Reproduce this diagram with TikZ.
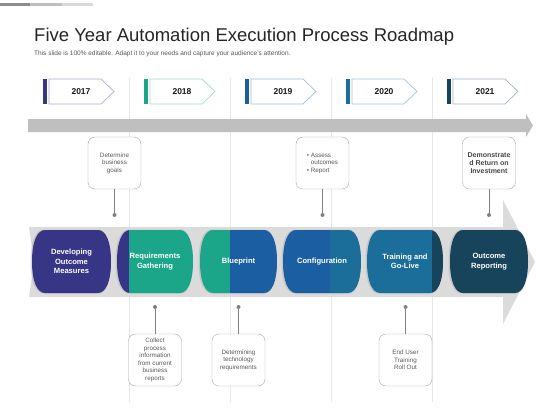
\documentclass[tikz,border=0pt]{standalone}
\usepackage{fontspec}
\setmainfont{Liberation Sans}
\definecolor{cA}{HTML}{373586}
\definecolor{cB}{HTML}{1BA68A}
\definecolor{cC}{HTML}{1C5EA2}
\definecolor{cD}{HTML}{1B6E9A}
\definecolor{cE}{HTML}{17435B}
\definecolor{titlegray}{HTML}{262626}
\definecolor{subgray}{HTML}{595959}
\begin{document}
\begin{tikzpicture}[x=1pt,y=-1pt,
  callout/.style={draw=black!35, rounded corners=7pt, fill=white, minimum width=53pt,
    minimum height=52pt, align=center, text=black!65, inner sep=1pt,
    font=\fontsize{6.3}{7.5}\selectfont},
  boldcallout/.style={callout, text=black!72, font=\bfseries\fontsize{7}{8}\selectfont},
  dotnode/.style={circle, fill=black!50, inner sep=0pt, minimum size=4pt},
  conn/.style={draw=black!50, line width=0.8pt},
  pilltext/.style={text=white, align=center, font=\bfseries\fontsize{7.6}{9.5}\selectfont},
  yeartext/.style={font=\bfseries\fontsize{8.5}{10}\selectfont, text=black!90},
  divider/.style={draw=black!9, line width=0.5pt}]
\useasboundingbox[fill=white] (0,0) rectangle (560,420);
% top-left decorative bars
\fill[black!45] (0,3.5) rectangle (30,6.5);
\fill[black!25] (30,3.5) rectangle (62,6.5);
\fill[black!15] (62,3.5) rectangle (93,6.5);
% title
\node[anchor=base west, inner sep=0pt, text=titlegray, font=\fontsize{18.5}{22}\selectfont] (title) at (34,42) {Five Year Automation Execution Process Roadmap};
\node[anchor=base west, inner sep=0pt, text=subgray, font=\fontsize{6.5}{7.5}\selectfont] (subtitle) at (34,56) {This slide is 100\% editable. Adapt it to your needs and capture your audience's attention.};
% dividers
\foreach \x in {129,230,331,432} \draw[divider] (\x,78) -- (\x,402);
% year tags
\foreach \x/\c/\yr/\n in {49/cA/2017/1,150/cB/2018/2,251/cC/2019/3,352/cD/2020/4,453/cE/2021/5}{
  \fill[\c] (\x-6,79) rectangle (\x-2,104);
  \draw[draw=\c!40, fill=white, line width=0.7pt] (\x,79) -- (\x+52,79) -- (\x+65,91.5) -- (\x+52,104) -- (\x,104) -- cycle;
  \node[yeartext] (y\n) at (\x+32,91.5) {\yr};
}
% thin gray arrow
\fill[black!25] (28,119) -- (526,119) -- (526,114) -- (533,125.5) -- (526,137) -- (526,132) -- (28,132) -- cycle;
% big chevron
\fill[black!14] (29,227) -- (503,227) -- (503,200) -- (535,262) -- (503,324) -- (503,297) -- (29,297) -- (34,262) -- cycle;
% pills
\foreach \a/\b in {32/111,117/193,200/277,283/361,367/443,450/528}{
  \fill[black!35, opacity=0.4] (\a+12,229.5) -- (\b-12,229.5) .. controls (\b-5,229.5) and (\b,242) .. (\b,261.5) .. controls (\b,281) and (\b-5,293.5) .. (\b-12,293.5) -- (\a+12,293.5) .. controls (\a+3,293.5) and (\a-1.5,281) .. (\a-1.5,261.5) .. controls (\a-1.5,242) and (\a+3,229.5) .. cycle;
  \begin{scope}
    \clip (\a+13,230) -- (\b-13,230) .. controls (\b-5,230) and (\b,242) .. (\b,261.5) .. controls (\b,281) and (\b-5,293) .. (\b-13,293) -- (\a+13,293) .. controls (\a+5,293) and (\a,281) .. (\a,261.5) .. controls (\a,242) and (\a+5,230) .. cycle;
    \fill[cA] (20,225) rectangle (129,300);
    \fill[cB] (129,225) rectangle (230,300);
    \fill[cC] (230,225) rectangle (330,300);
    \fill[cD] (330,225) rectangle (432,300);
    \fill[cE] (432,225) rectangle (540,300);
  \end{scope}
}
\node[pilltext] (p1) at (71.5,261.5) {Developing\\Outcome\\Measures};
\node[pilltext] (p2) at (155,261.5) {Requirements\\Gathering};
\node[pilltext] (p3) at (238.5,261.5) {Blueprint};
\node[pilltext] (p4) at (322,261.5) {Configuration};
\node[pilltext] (p5) at (405,261.5) {Training and\\Go-Live};
\node[pilltext] (p6) at (489,261.5) {Outcome\\Reporting};
% callouts top
\node[callout] (t1) at (114.5,163) {Determine\\business\\goals};
\node[callout, align=left] (t2) at (322.5,163) {\textbullet\ Assess\\\phantom{\textbullet\ }outcomes\\\textbullet\ Report};
\node[boldcallout] (t3) at (489,163) {Demonstrate\\d Return on\\Investment};
\node[dotnode] (d1) at (114.5,215) {};
\node[dotnode] (d2) at (322.5,215) {};
\node[dotnode] (d3) at (489,215) {};
\draw[conn] (t1) -- (d1);
\draw[conn] (t2) -- (d2);
\draw[conn] (t3) -- (d3);
% callouts bottom
\node[callout] (b1) at (155,360) {Collect\\process\\information\\from current\\business\\reports};
\node[callout] (b2) at (238.5,360) {Determining\\technology\\requirements};
\node[callout] (b3) at (405.5,360) {End User\\Training\\Roll Out};
\node[dotnode] (e1) at (155,307) {};
\node[dotnode] (e2) at (238.5,307) {};
\node[dotnode] (e3) at (405.5,307) {};
\draw[conn] (e1) -- (b1);
\draw[conn] (e2) -- (b2);
\draw[conn] (e3) -- (b3);
\end{tikzpicture}
\end{document}
